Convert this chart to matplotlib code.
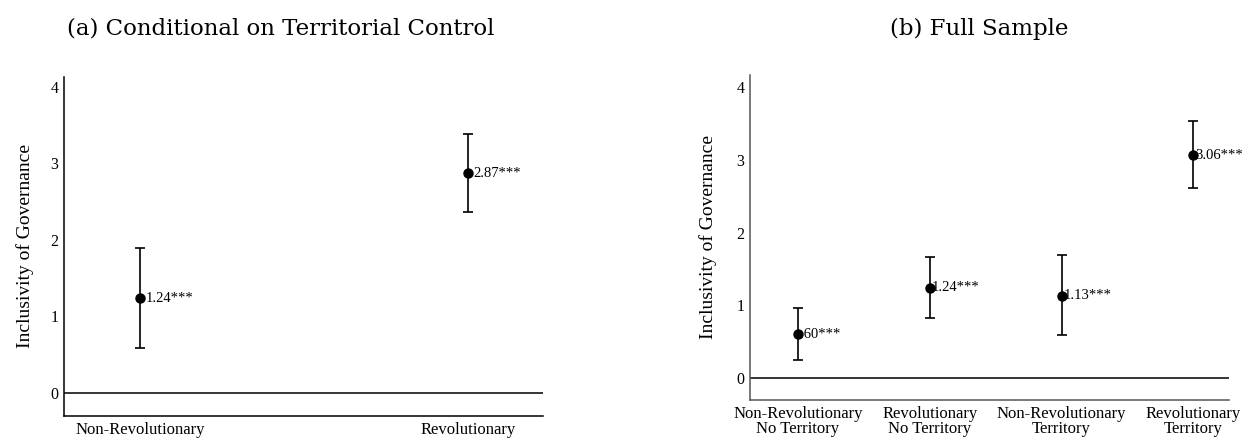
import numpy as np
import matplotlib.pyplot as plt

# panel (a): conditional on territorial control
cats_a = ['Non-Revolutionary', 'Revolutionary']
est_a = [1.24, 2.87]
lo_a = [0.59, 2.36]
hi_a = [1.90, 3.38]
lab_a = ['1.24***', '2.87***']

# panel (b): full sample
cats_b = ['Non-Revolutionary\nNo Territory', 'Revolutionary\nNo Territory',
          'Non-Revolutionary\nTerritory', 'Revolutionary\nTerritory']
est_b = [0.60, 1.24, 1.13, 3.06]
lo_b = [0.25, 0.83, 0.59, 2.61]
hi_b = [0.96, 1.67, 1.69, 3.53]
lab_b = ['.60***', '1.24***', '1.13***', '3.06***']

yticks = [0, 1, 2, 3, 4]

plt.rcParams['font.family'] = ['Liberation Serif', 'DejaVu Serif']

fig = plt.figure(figsize=(12.47, 4.41), dpi=100)
axA = fig.add_axes([0.0513, 0.0567, 0.3842, 0.7689])
axB = fig.add_axes([0.6014, 0.0930, 0.3842, 0.7370])


def draw(ax, cats, est, lo, hi, labs, xlim, ylim, spine_col, gap, lpad):
    x = np.arange(len(cats))
    est = np.array(est)
    err = [est - np.array(lo), np.array(hi) - est]
    ax.axhline(0, color='black', lw=1.1, zorder=1)
    ax.errorbar(x, est, yerr=err, fmt='o', color='black', ms=6.5,
                elinewidth=1.2, capsize=3.5, capthick=1.2, zorder=3)
    for xi, yi, t in zip(x, est, labs):
        ax.annotate(t, (xi, yi), xytext=(gap, 0), textcoords='offset points',
                    va='center', ha='left', fontsize=10.5)
    ax.set_xticks(x)
    ax.set_xticklabels(cats, fontsize=12, linespacing=0.95)
    ax.set_yticks(yticks)
    ax.set_yticklabels([str(v) for v in yticks], fontsize=11.5)
    ax.tick_params(length=0, pad=4)
    ax.set_xlim(*xlim)
    ax.set_ylim(*ylim)
    ax.spines['top'].set_visible(False)
    ax.spines['right'].set_visible(False)
    for s in ['left', 'bottom']:
        ax.spines[s].set_color(spine_col)
        ax.spines[s].set_linewidth(1.1)
    ax.set_ylabel('Inclusivity of Governance', fontsize=14, labelpad=lpad)


draw(axA, cats_a, est_a, lo_a, hi_a, lab_a, (-0.232, 1.229), (-0.30, 4.13), 'black', 4, 12)
draw(axB, cats_b, est_b, lo_b, hi_b, lab_b, (-0.365, 3.27), (-0.30, 4.165), '#555555', 1.5, 14)

fig.text(0.2247, 0.935, '(a) Conditional on Territorial Control', ha='center', va='center',
         fontsize=16.5, family='DejaVu Serif')
fig.text(0.785, 0.935, '(b) Full Sample', ha='center', va='center',
         fontsize=16.5, family='DejaVu Serif')

fig.savefig('out.png', dpi=100)
